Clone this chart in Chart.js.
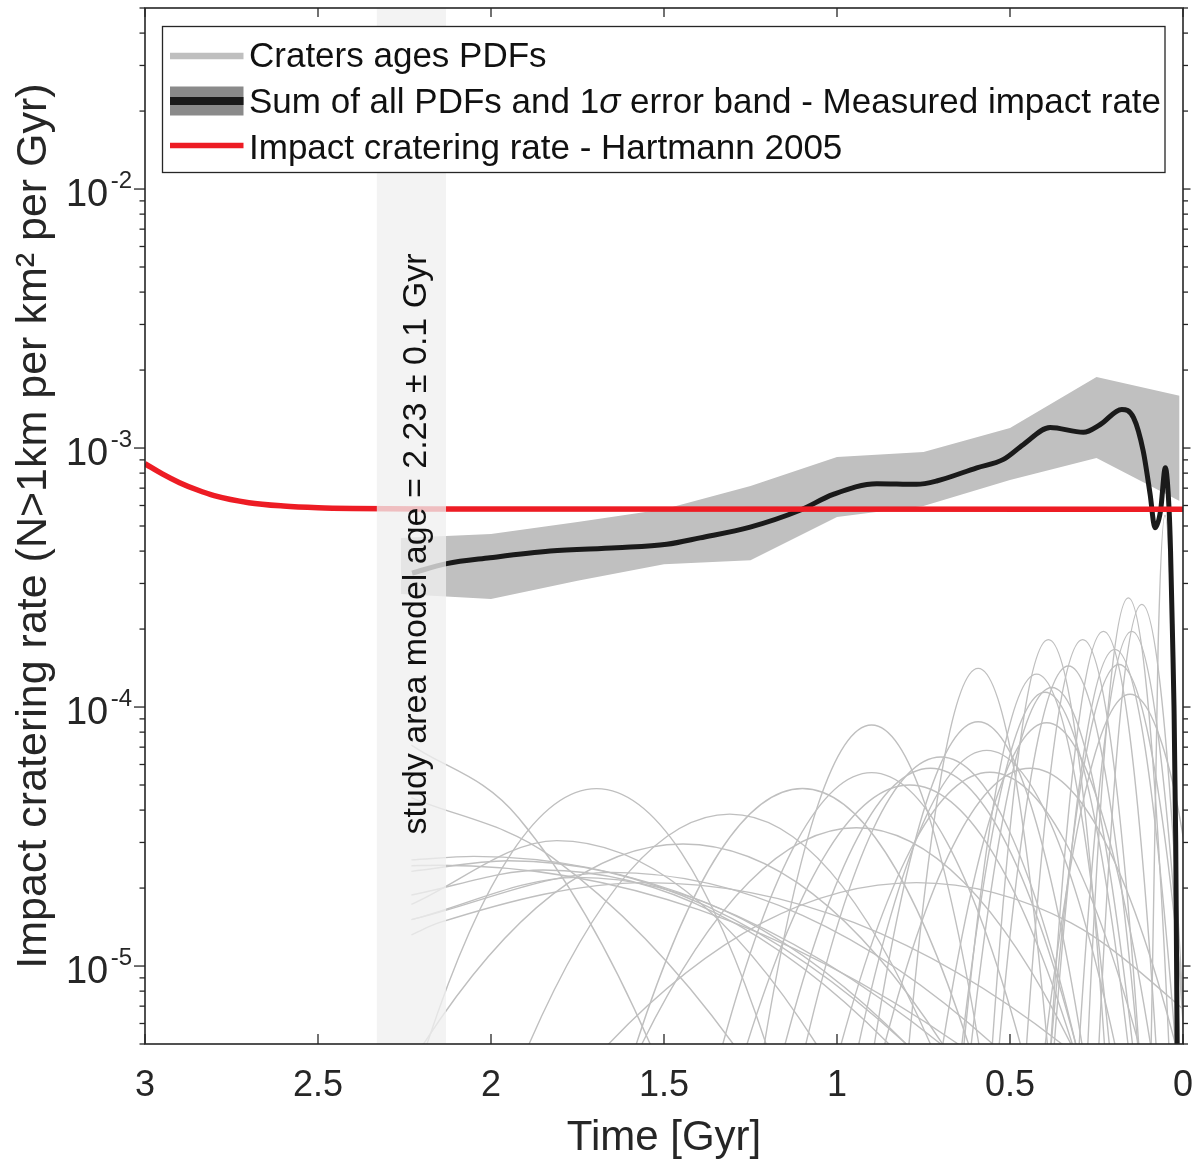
<!DOCTYPE html>
<html>
<head>
<meta charset="utf-8">
<script src="https://cdn.jsdelivr.net/npm/chart.js@4.4.1/dist/chart.umd.min.js"></script>
<style>
html,body{margin:0;padding:0;background:#ffffff;}
canvas{display:block;}
</style>
</head>
<body>
<canvas id="c" width="1195" height="1162"></canvas>
<script>
// ---------------- DATA ----------------
const xTickValues = [3, 2.5, 2, 1.5, 1, 0.5, 0];
const yDecades = [1e-2, 1e-3, 1e-4, 1e-5];
const yExponents = ['-2', '-3', '-4', '-5'];

const studyAge = 2.23;
const studyErr = 0.1;

const legendLabels = [
  'Craters ages PDFs',
  'Sum of all PDFs and 1σ error band - Measured impact rate',
  'Impact cratering rate - Hartmann 2005'
];
const xTitle = 'Time [Gyr]';
const yTitle = 'Impact cratering rate (N>1km per km² per Gyr)';

// Hartmann 2005 cratering rate
const hartmannT    = [3.0, 2.95, 2.9, 2.85, 2.8, 2.7, 2.6, 2.5, 2.4, 2.2, 0.0];
const hartmannRate = [8.7e-4, 7.95e-4, 7.35e-4, 6.9e-4, 6.55e-4, 6.15e-4, 5.97e-4, 5.88e-4, 5.84e-4, 5.81e-4, 5.8e-4];

// Sum of all PDFs (measured impact rate)
const sumT    = [2.228, 2.128, 2.003, 1.829, 1.637, 1.492, 1.396, 1.251, 1.107, 1.011, 0.885, 0.770, 0.712, 0.596, 0.519, 0.462, 0.384, 0.288, 0.240, 0.177, 0.143, 0.115, 0.095, 0.081, 0.065, 0.051, 0.040, 0.036, 0.030, 0.026, 0.021, 0.017, 0.014];
const sumRate = [3.29e-4, 3.58e-4, 3.77e-4, 4.0e-4, 4.12e-4, 4.25e-4, 4.5e-4, 4.95e-4, 5.75e-4, 6.62e-4, 7.28e-4, 7.24e-4, 7.46e-4, 8.39e-4, 9.04e-4, 1.03e-3, 1.2e-3, 1.15e-3, 1.23e-3, 1.41e-3, 1.31e-3, 9.73e-4, 6.62e-4, 4.92e-4, 5.71e-4, 8.39e-4, 5.71e-4, 4.0e-4, 1.8e-4, 1.0e-4, 3.0e-5, 5.0e-6, 1.0e-6];

// 1 sigma error band
const bandT  = [2.26, 2.0, 1.75, 1.5, 1.25, 1.0, 0.75, 0.5, 0.25, 0.01];
const bandHi = [4.49e-4, 4.66e-4, 5.18e-4, 5.8e-4, 7.13e-4, 9.23e-4, 9.65e-4, 1.195e-3, 1.88e-3, 1.59e-3];
const bandLo = [2.73e-4, 2.61e-4, 3.07e-4, 3.56e-4, 3.69e-4, 5.42e-4, 5.97e-4, 7.52e-4, 9.15e-4, 6.24e-4];

// Individual crater age PDFs: [age Gyr, rate]
const craterPDFs = [
  [[2.23,7.13e-5],[1.92,3.73e-5],[1.54,5e-6],[1.16,1.75e-7]],
  [[2.23,4.47e-5],[1.825,2.64e-5],[1.30,5e-6],[0.775,3.1e-7]],
  [[2.23,2.57e-5],[2.05,2.65e-5],[1.375,1.75e-5],[0.70,5e-6],[0.025,6.2e-7]],
  [[2.23,2.32e-5],[1.95,2.55e-5],[1.375,1.7e-5],[0.80,5e-6],[0.225,6.5e-7]],
  [[2.23,2.44e-5],[2.15,2.45e-5],[1.40,1.65e-5],[0.65,5e-6],[-0.10,6.9e-7]],
  [[2.23,1.88e-5],[1.85,2.35e-5],[1.35,1.6e-5],[0.85,5e-6],[0.35,7.2e-7]],
  [[2.23,1.51e-5],[1.75,2.2e-5],[1.275,1.52e-5],[0.80,5e-6],[0.325,7.9e-7]],
  [[2.23,1.32e-5],[2.15,1.47e-5],[1.55,2.1e-5],[0.95,1.47e-5],[0.35,5e-6],[-0.25,8.3e-7]],
  [[2.23,1.51e-5],[1.65,2.3e-5],[1.10,1.57e-5],[0.55,5e-6],[0.0,7.4e-7]],
  [[2.43,2.9e-7],[2.185,5e-6],[1.94,2.74e-5],[1.695,4.84e-5],[1.45,2.74e-5],[1.205,5e-6],[0.96,2.9e-7]],
  [[2.18,3.9e-7],[1.89,5e-6],[1.60,2.32e-5],[1.31,3.86e-5],[1.02,2.32e-5],[0.73,5e-6],[0.44,3.9e-7]],
  [[2.57,5.4e-7],[2.195,5e-6],[1.82,1.9e-5],[1.445,2.96e-5],[1.07,1.9e-5],[0.695,5e-6],[0.32,5.4e-7]],
  [[2.23,1.73e-5],[1.81,3.05e-5],[1.435,1.94e-5],[1.06,5e-6],[0.685,5.2e-7]],
  [[1.82,2.9e-7],[1.58,5e-6],[1.34,2.75e-5],[1.10,4.85e-5],[0.86,2.75e-5],[0.62,5e-6],[0.38,2.9e-7]],
  [[1.365,1.44e-7],[1.21,5e-6],[1.055,4.19e-5],[0.90,8.52e-5],[0.745,4.19e-5],[0.59,5e-6],[0.435,1.44e-7]],
  [[1.545,2.45e-7],[1.33,5e-6],[1.115,3.05e-5],[0.90,5.58e-5],[0.685,3.05e-5],[0.47,5e-6],[0.255,2.45e-7]],
  [[1.285,2.06e-7],[1.09,5e-6],[0.895,3.39e-5],[0.70,6.41e-5],[0.505,3.39e-5],[0.31,5e-6],[0.115,2.06e-7]],
  [[1.36,2.33e-7],[1.15,5e-6],[0.94,3.14e-5],[0.73,5.8e-5],[0.52,3.14e-5],[0.31,5e-6],[0.10,2.33e-7]],
  [[1.495,2.8e-7],[1.26,5e-6],[1.025,2.81e-5],[0.79,5e-5],[0.555,2.81e-5],[0.32,5e-6],[0.085,2.8e-7]],
  [[2.105,8.3e-7],[1.66,5e-6],[1.215,1.47e-5],[0.77,2.1e-5],[0.325,1.47e-5],[-0.12,5e-6]],
  [[0.892,7.7e-8],[0.792,5e-6],[0.692,6.12e-5],[0.592,1.41e-4],[0.492,6.12e-5],[0.392,5e-6],[0.292,7.7e-8]],
  [[1.042,1.39e-7],[0.892,5e-6],[0.742,4.28e-5],[0.592,8.77e-5],[0.442,4.28e-5],[0.292,5e-6],[0.142,1.39e-7]],
  [[1.122,1.91e-7],[0.937,5e-6],[0.752,3.54e-5],[0.567,6.8e-5],[0.382,3.54e-5],[0.197,5e-6],[0.012,1.91e-7]],
  [[1.203,2.44e-7],[0.988,5e-6],[0.773,3.06e-5],[0.558,5.6e-5],[0.343,3.06e-5],[0.128,5e-6],[-0.087,2.44e-7]],
  [[1.072,2.33e-7],[0.862,5e-6],[0.652,3.14e-5],[0.442,5.8e-5],[0.232,3.14e-5],[0.022,5e-6],[-0.188,2.33e-7]],
  [[0.632,5.6e-8],[0.551,5e-6],[0.47,7.41e-5],[0.389,1.82e-4],[0.308,7.41e-5],[0.227,5e-6],[0.146,5.6e-8]],
  [[0.738,8.2e-8],[0.633,5e-6],[0.528,5.89e-5],[0.423,1.34e-4],[0.318,5.89e-5],[0.213,5e-6],[0.108,8.2e-8]],
  [[0.759,1e-7],[0.639,5e-6],[0.519,5.21e-5],[0.399,1.14e-4],[0.279,5.21e-5],[0.159,5e-6],[0.039,1e-7]],
  [[0.729,9.5e-8],[0.612,5e-6],[0.4955,5.38e-5],[0.379,1.19e-4],[0.2625,5.38e-5],[0.146,5e-6],[0.029,9.5e-8]],
  [[0.844,1.4e-7],[0.694,5e-6],[0.544,4.26e-5],[0.394,8.7e-5],[0.244,4.26e-5],[0.094,5e-6],[-0.056,1.4e-7]],
  [[0.631,7.5e-8],[0.531,5e-6],[0.431,6.21e-5],[0.331,1.44e-4],[0.231,6.21e-5],[0.131,5e-6],[0.031,7.5e-8]],
  [[0.533,5.6e-8],[0.452,5e-6],[0.371,7.41e-5],[0.29,1.82e-4],[0.209,7.41e-5],[0.128,5e-6],[0.047,5.6e-8]],
  [[0.458,5.1e-8],[0.382,5e-6],[0.306,7.83e-5],[0.23,1.96e-4],[0.154,7.83e-5],[0.078,5e-6],[0.002,5.1e-8]],
  [[0.4595,6.2e-8],[0.372,5e-6],[0.2845,6.95e-5],[0.197,1.67e-4],[0.1095,6.95e-5],[0.022,5e-6],[-0.0655,6.2e-8]],
  [[0.479,7.4e-8],[0.381,5e-6],[0.283,6.28e-5],[0.185,1.46e-4],[0.087,6.28e-5],[-0.011,5e-6],[-0.109,7.4e-8]],
  [[0.3335,3.5e-8],[0.275,5e-6],[0.2165,9.8e-5],[0.158,2.64e-4],[0.0995,9.8e-5],[0.041,5e-6],[-0.0175,3.5e-8]],
  [[0.376,5.1e-8],[0.30,5e-6],[0.224,7.83e-5],[0.148,1.96e-4],[0.072,7.83e-5],[-0.004,5e-6],[-0.08,5.1e-8]],
  [[0.305,3.8e-8],[0.243,5e-6],[0.181,9.38e-5],[0.119,2.49e-4],[0.057,9.38e-5],[-0.005,5e-6],[-0.067,3.8e-8]],
  [[0.5205,1.03e-7],[0.398,5e-6],[0.2755,5.15e-5],[0.153,1.12e-4],[0.0305,5.15e-5],[-0.092,5e-6]],
  [[0.112,1.4e-8],[0.092,5e-6],[0.072,1.7e-4],[0.052,5.5e-4],[0.032,1.7e-4],[0.012,5e-6],[-0.008,1.4e-8]],
  [[1.874,4.5e-7],[1.564,5e-6],[1.254,2.11e-5],[0.944,3.42e-5],[0.634,2.11e-5],[0.324,5e-6],[0.014,4.5e-7]]
];

// ---------------- STYLE ----------------
const FONT = '"Liberation Sans", Arial, Helvetica, sans-serif';
const AXIS_COLOR = '#262626';
const PDF_COLOR = '#bfbfbf';
const SUM_COLOR = '#1a1a1a';
const BAND_COLOR = '#c0c0c0';
const RED = '#ed1c24';

const toXY = (ts, vs) => ts.map((t, i) => ({x: t, y: vs[i]}));

const datasets = [];
datasets.push({
  label: 'hartmann', data: toXY(hartmannT, hartmannRate),
  borderColor: RED, borderWidth: 5.5, pointRadius: 0,
  cubicInterpolationMode: 'monotone', capBezierPoints: false, fill: false, order: 0, clip: 0
});
datasets.push({
  label: 'sum', data: toXY(sumT, sumRate),
  borderColor: SUM_COLOR, borderWidth: 5, pointRadius: 0,
  cubicInterpolationMode: 'monotone', capBezierPoints: false, fill: false, order: 1, clip: 0
});
datasets.push({
  label: 'bandHi', data: toXY(bandT, bandHi),
  borderColor: 'rgba(0,0,0,0)', borderWidth: 0, pointRadius: 0, tension: 0,
  backgroundColor: BAND_COLOR, fill: '+1', order: 2, clip: 0
});
datasets.push({
  label: 'bandLo', data: toXY(bandT, bandLo),
  borderColor: 'rgba(0,0,0,0)', borderWidth: 0, pointRadius: 0, tension: 0,
  fill: false, order: 3, clip: 0
});
craterPDFs.forEach((c, i) => {
  datasets.push({
    label: 'pdf' + i, data: c.map(p => ({x: p[0], y: p[1]})),
    borderColor: PDF_COLOR, borderWidth: 1.4, pointRadius: 0,
    cubicInterpolationMode: 'monotone', capBezierPoints: false, fill: false, order: 10, clip: 0
  });
});

function line(ctx, x1, y1, x2, y2) { ctx.beginPath(); ctx.moveTo(x1, y1); ctx.lineTo(x2, y2); ctx.stroke(); }

const decorPlugin = {
  id: 'decor',
  afterDatasetsDraw(chart) {
    const {ctx, chartArea: a, scales: {x}} = chart;
    const x1 = x.getPixelForValue(studyAge + studyErr);
    const x2 = x.getPixelForValue(studyAge - studyErr);
    ctx.save();
    ctx.fillStyle = 'rgba(240,240,240,0.77)';
    ctx.fillRect(x1, a.top, x2 - x1, a.bottom - a.top);
    // rotated label
    ctx.fillStyle = '#111111';
    ctx.font = '34px ' + FONT;
    ctx.textAlign = 'center';
    ctx.textBaseline = 'alphabetic';
    ctx.translate((x1 + x2) / 2 + 15, 544);
    ctx.rotate(-Math.PI / 2);
    ctx.fillText('study area model age = ' + studyAge + ' ± ' + studyErr + ' Gyr', 0, 0);
    ctx.restore();
  },
  afterDraw(chart) {
    const {ctx, chartArea: a, scales: {x, y}} = chart;
    ctx.save();
    ctx.strokeStyle = AXIS_COLOR;
    ctx.lineWidth = 1.6;
    ctx.lineCap = 'butt';
    // frame
    ctx.strokeRect(a.left, a.top, a.right - a.left, a.bottom - a.top);
    ctx.lineWidth = 1.3;
    // x ticks (bottom and top, inward)
    xTickValues.forEach(v => {
      const px = x.getPixelForValue(v);
      line(ctx, px, a.bottom, px, a.bottom - 10);
      line(ctx, px, a.top, px, a.top + 9);
    });
    // y ticks (outward on both sides)
    const yMin = y.min, yMax = y.max;
    for (let e = -6; e <= -1; e++) {
      for (let k = 1; k <= 9; k++) {
        const v = k * Math.pow(10, e);
        if (v < yMin * 0.999 || v > yMax * 1.001) continue;
        const py = y.getPixelForValue(v);
        const major = (k === 1);
        line(ctx, a.left - (major ? 11 : 5.5), py, a.left, py);
        line(ctx, a.right, py, a.right + (major ? 7.5 : 5), py);
      }
    }
    // y tick labels 10^n
    ctx.fillStyle = AXIS_COLOR;
    ctx.textBaseline = 'alphabetic';
    yDecades.forEach((v, i) => {
      const py = y.getPixelForValue(v);
      ctx.font = '24px ' + FONT;
      const ew = ctx.measureText(yExponents[i]).width;
      ctx.textAlign = 'left';
      ctx.fillText(yExponents[i], 132 - ew, py - 1);
      ctx.font = '38px ' + FONT;
      ctx.textAlign = 'right';
      ctx.fillText('10', 132 - ew - 2.5, py + 17);
    });
    ctx.restore();

    // legend
    ctx.save();
    const L = {x: 162.5, y: 26.5, w: 1002.5, h: 146};
    ctx.fillStyle = '#ffffff';
    ctx.fillRect(L.x, L.y, L.w, L.h);
    ctx.strokeStyle = AXIS_COLOR;
    ctx.lineWidth = 1.3;
    ctx.strokeRect(L.x, L.y, L.w, L.h);
    const sx1 = 170, sx2 = 243.5;
    ctx.strokeStyle = PDF_COLOR; ctx.lineWidth = 6.5;
    line(ctx, sx1, 56, sx2, 56);
    ctx.fillStyle = '#8a8a8a';
    ctx.fillRect(sx1, 86.5, sx2 - sx1, 29);
    ctx.strokeStyle = SUM_COLOR; ctx.lineWidth = 8;
    line(ctx, sx1, 101, sx2, 101);
    ctx.strokeStyle = RED; ctx.lineWidth = 5.5;
    line(ctx, sx1, 145.5, sx2, 145.5);
    ctx.fillStyle = '#111111';
    ctx.textAlign = 'left';
    ctx.textBaseline = 'alphabetic';
    const baselines = [66.7, 113.3, 158.5];
    legendLabels.forEach((s, i) => {
      let xx = 249;
      const parts = s.split('σ');
      parts.forEach((p, j) => {
        ctx.font = '35px ' + FONT;
        ctx.fillText(p, xx, baselines[i]);
        xx += ctx.measureText(p).width;
        if (j < parts.length - 1) {
          ctx.font = 'italic 35px ' + FONT;
          ctx.fillText('σ', xx, baselines[i]);
          xx += ctx.measureText('σ').width;
        }
      });
    });
    ctx.restore();
  }
};

new Chart(document.getElementById('c'), {
  type: 'line',
  data: {datasets},
  options: {
    responsive: false,
    maintainAspectRatio: false,
    devicePixelRatio: 1,
    animation: false,
    events: [],
    layout: {padding: {left: 0, right: 12, top: 8, bottom: 0}},
    plugins: {legend: {display: false}, tooltip: {enabled: false}},
    scales: {
      x: {
        type: 'linear', reverse: true, min: 0, max: 3,
        grid: {display: false, drawTicks: false},
        border: {display: false},
        ticks: {
          stepSize: 0.5, autoSkip: false, maxRotation: 0, padding: 20,
          color: AXIS_COLOR, font: {family: FONT, size: 36},
          callback: v => String(v)
        },
        title: {display: true, text: xTitle, color: AXIS_COLOR,
                font: {family: FONT, size: 42, lineHeight: 1.1}, padding: {top: 0, bottom: 0}},
        afterFit: s => { s.height = 118; s.paddingLeft = 0; s.paddingRight = 0; }
      },
      y: {
        type: 'logarithmic', min: 5e-6, max: 5e-2,
        grid: {display: false, drawTicks: false},
        border: {display: false},
        ticks: {display: false},
        title: {display: true, text: yTitle, color: AXIS_COLOR,
                font: {family: FONT, size: 43, lineHeight: 1.2}, padding: {top: 8, bottom: 0}},
        afterFit: s => { s.width = 145; s.paddingTop = 0; s.paddingBottom = 0; }
      }
    }
  },
  plugins: [decorPlugin]
});
</script>
</body>
</html>
